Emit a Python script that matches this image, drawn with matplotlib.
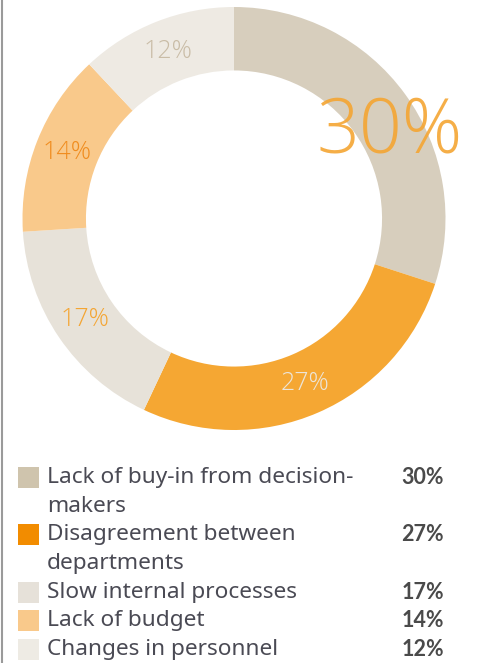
import numpy as np
import matplotlib
matplotlib.use("Agg")
import matplotlib.pyplot as plt
from matplotlib.patches import Rectangle
from matplotlib.lines import Line2D

plt.rcParams['font.family'] = ['Noto Sans', 'DejaVu Sans']

# survey shares, clockwise from 12 o'clock
labels = ["Lack of buy-in from decision-\nmakers",
          "Disagreement between\ndepartments",
          "Slow internal processes",
          "Lack of budget",
          "Changes in personnel"]
shares = [30, 27, 17, 14, 12]
slice_colors = ["#d7cebd", "#f5a733", "#e7e2d9", "#f9c98b", "#eeeae3"]
legend_colors = ["#cfc4ad", "#f28c00", "#e6e1d9", "#f9c98b", "#eeebe4"]
text_colors = ["#f4a533", "#ece5d9", "#f4a533", "#f08c1e", "#c9bca6"]

W, H = 479, 663
fig = plt.figure(figsize=(W / 100, H / 100), dpi=100)

# donut
cx, cy, r = 234, 218.5, 211.5
ax = fig.add_axes([(cx - r) / W, (H - cy - r) / H, 2 * r / W, 2 * r / H])
wedges, _ = ax.pie(shares, colors=slice_colors, startangle=90, counterclock=False,
                   radius=1, wedgeprops=dict(width=0.3, linewidth=0))
ax.set_xlim(-1, 1)
ax.set_ylim(-1, 1)
ax.set_aspect('equal')
ax.axis('off')

for i, (w, v) in enumerate(zip(wedges, shares)):
    mid = np.deg2rad((w.theta1 + w.theta2) / 2)
    if i == 0:
        # headline share, drawn large over the ring
        mid -= np.deg2rad(7.3)
        rr = 0.84
        ax.text(rr * np.cos(mid), rr * np.sin(mid), f"{v}%", ha='center', va='center',
                fontsize=54, color=text_colors[i], alpha=0.9, family='Open Sans',
                fontweight='light')
    else:
        rr = 0.85
        ax.text(rr * np.cos(mid), rr * np.sin(mid), f"{v}%", ha='center', va='center',
                fontsize=18, color=text_colors[i], family='Open Sans', fontweight='light')

# legend block, laid out in pixel units
lg = fig.add_axes([0, 0, 1, 1])
lg.set_xlim(0, W)
lg.set_ylim(H, 0)
lg.axis('off')

y = 477.7
step = 28.6
for lab, v, c in zip(labels, shares, legend_colors):
    lg.add_patch(Rectangle((18, y - 10.5), 21, 21, facecolor=c, edgecolor='none'))
    lines = lab.split("\n")
    for k, line in enumerate(lines):
        lg.text(47, y + k * step, line, ha='left', va='center', fontsize=16.3,
                color="#4a4a54")
    lg.text(444, y, f"{v}%", ha='right', va='center', fontsize=15.5,
            family='Lato', fontweight='bold', color="#4a4a4a")
    y += step * len(lines)

fig.add_artist(Line2D([1.5 / W, 1.5 / W], [0, 1], color="#9a9a9a", lw=1.5))

fig.savefig("out.png", dpi=100)
